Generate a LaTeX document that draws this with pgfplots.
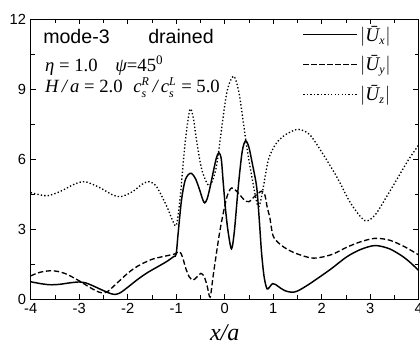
\documentclass[border=0pt]{standalone}
\usepackage{pgfplots}
\pgfplotsset{compat=1.18}
\usepackage{fontspec}
\setmainfont{Liberation Sans}
\newfontfamily\tnr{Liberation Serif}
\newcommand\tv[1]{\mbox{\tnr\itshape #1}}
\newcommand\ts[1]{\mbox{\tnr\itshape\fontsize{9}{9}\selectfont #1}}
\begin{document}
\begin{tikzpicture}
\begin{axis}[
  at={(0,0)}, anchor=south west,
  width=291pt, height=210pt, scale only axis,
  xmin=-4, xmax=4, ymin=0, ymax=12,
  xtick={-4,-3,...,4}, ytick={0,3,6,9,12},
  minor x tick num=1, minor y tick num=1,
  tick align=inside,
  major tick length=4pt, minor tick length=3pt,
  axis line style={line width=0.6pt},
  every tick/.style={line width=0.5pt, black},
  /pgf/number format/assume math mode=true,
  tick label style={font=\fontsize{11}{12}\selectfont},
  xlabel={\tnr\itshape\fontsize{18}{20}\selectfont x/a},
  xlabel style={yshift=-1pt},
  legend style={draw=none, fill=none, at={(0.69,0.995)}, anchor=north west,
    row sep=5.5pt, font=\fontsize{14.5}{16}\selectfont,
    /tikz/every even column/.append style={column sep=5pt}},
  legend image code/.code={\draw[#1] (0pt,0pt) -- (40pt,0pt);},
  legend cell align=left,
]
\addplot[black, line width=1.1pt, smooth] coordinates {
(-4.0,0.74) (-3.8,0.66) (-3.6,0.61) (-3.4,0.63) (-3.2,0.69) (-3.0,0.73)
(-2.85,0.68) (-2.7,0.55) (-2.5,0.36) (-2.35,0.23) (-2.25,0.20) (-2.15,0.27)
(-2.0,0.50) (-1.8,0.83) (-1.6,1.12) (-1.4,1.36) (-1.2,1.60) (-1.05,1.82)
(-1.0,1.92) (-0.96,2.8) (-0.89,4.24) (-0.82,5.05) (-0.75,5.33) (-0.68,5.38)
(-0.6,5.15) (-0.52,4.7) (-0.45,4.25) (-0.41,4.12) (-0.36,4.3) (-0.3,4.8)
(-0.23,5.5) (-0.17,6.05) (-0.12,6.27) (-0.07,6.0) (-0.03,5.0) (0.02,3.8)
(0.07,2.9) (0.14,2.15) (0.2,2.9) (0.28,4.8) (0.36,6.3) (0.43,6.78)
(0.5,6.5) (0.58,5.7) (0.66,4.8) (0.71,3.5) (0.76,2.0) (0.81,1.0)
(0.86,0.5) (0.89,0.43) (0.94,0.55) (0.99,0.66) (1.05,0.62) (1.15,0.47)
(1.25,0.35) (1.38,0.29) (1.5,0.34) (1.7,0.58) (1.97,0.96) (2.2,1.30)
(2.52,1.81) (2.8,2.12) (3.1,2.29) (3.4,2.15) (3.68,1.81) (3.85,1.52) (4.0,1.22)
};
\addlegendentry{$\left|\tv{Ū}_{\ts{x}}\right|$}
\addplot[black, line width=1.0pt, smooth, dash pattern=on 4pt off 2pt] coordinates {
(-4.0,0.99) (-3.8,1.15) (-3.55,1.21) (-3.3,1.10) (-3.0,0.78) (-2.8,0.52)
(-2.6,0.30) (-2.5,0.27) (-2.4,0.34) (-2.2,0.72) (-2.0,1.10) (-1.8,1.40)
(-1.5,1.70) (-1.2,1.85) (-1.03,1.93) (-0.93,2.03) (-0.87,1.8) (-0.8,1.3)
(-0.73,0.95) (-0.65,0.81) (-0.57,0.95) (-0.49,1.10) (-0.42,0.95) (-0.36,0.55)
(-0.30,0.08) (-0.24,0.95) (-0.17,1.96) (-0.1,2.9) (-0.03,3.67) (0.05,4.4)
(0.12,4.72) (0.18,4.74) (0.3,4.5) (0.4,4.25) (0.5,4.17) (0.62,4.4)
(0.76,4.62) (0.83,4.45) (0.88,3.9) (0.93,3.5) (1.0,2.7) (1.14,2.35)
(1.3,2.12) (1.5,1.93) (1.83,1.75) (2.2,1.9) (2.52,2.22) (2.8,2.45)
(3.1,2.6) (3.4,2.52) (3.7,2.25) (4.0,1.89)
};
\addlegendentry{$\left|\tv{Ū}_{\ts{y}}\right|$}
\addplot[black, line width=1.0pt, smooth, dash pattern=on 1pt off 1.6pt] coordinates {
(-4.0,4.56) (-3.8,4.46) (-3.64,4.43) (-3.4,4.6) (-3.1,4.92) (-2.89,5.03)
(-2.6,4.8) (-2.3,4.45) (-2.13,4.39) (-1.9,4.6) (-1.7,4.92) (-1.55,5.03)
(-1.4,4.8) (-1.2,4.0) (-1.1,3.5) (-1.0,3.15) (-0.92,4.3) (-0.82,6.6)
(-0.72,8.1) (-0.65,7.8) (-0.58,6.8) (-0.47,5.53) (-0.32,4.85) (-0.2,5.4)
(-0.13,6.24) (0.04,8.8) (0.18,9.55) (0.28,9.0) (0.35,8.1) (0.45,6.6)
(0.56,5.24) (0.69,3.96) (0.78,4.6) (0.90,5.96) (1.04,6.6) (1.14,6.85)
(1.3,7.1) (1.52,7.27) (1.75,7.05) (2.0,6.3) (2.31,5.24) (2.6,4.1)
(2.89,3.36) (3.1,3.6) (3.34,4.39) (3.6,5.3) (3.8,6.0) (4.0,6.6)
};
\addlegendentry{$\left|\tv{Ū}_{\ts{z}}\right|$}
\node[anchor=base west, inner sep=0pt, font=\fontsize{14.7}{16}\selectfont] at (axis cs:-3.746,10.97) {mode-3};
\node[anchor=base west, inner sep=0pt, font=\fontsize{14.7}{16}\selectfont] at (axis cs:-1.58,10.97) {drained};
\node[anchor=base west, inner sep=0pt, font=\tnr\fontsize{14}{16}\selectfont] at (axis cs:-3.705,9.73) {\itshape η\upshape\ = 1.0};
\node[anchor=base west, inner sep=0pt, font=\tnr\fontsize{14}{16}\selectfont] at (axis cs:-2.26,9.73) {\itshape ψ\upshape=45\textsuperscript{0}};
\node[anchor=base west, inner sep=0pt, font=\tnr\fontsize{14}{16}\selectfont] at (axis cs:-3.705,8.83) {\itshape H\,/\,a\upshape\ = 2.0};
\node[anchor=base west, inner sep=0pt, font=\tnr\fontsize{14}{16}\selectfont] at (axis cs:-1.89,8.83) {${\tv{c}}_{\ts{s}}^{\ts{R}}\mbox{\,\itshape /\,}{\tv{c}}_{\ts{s}}^{\ts{L}}$ = 5.0};
\end{axis}
\pgfresetboundingbox
\path[use as bounding box] (-23pt,-36.75pt) rectangle (292pt,224.25pt);
\end{tikzpicture}
\end{document}
